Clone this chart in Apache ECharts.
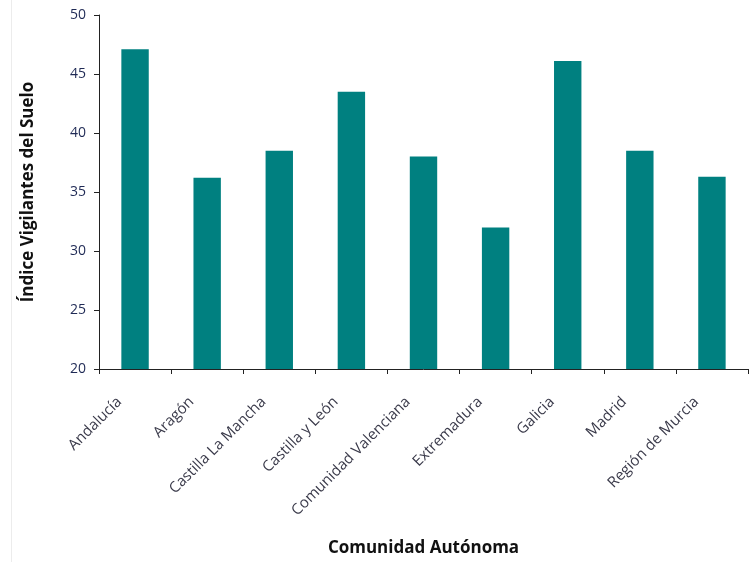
<!DOCTYPE html>
<html>
<head>
<meta charset="utf-8">
<script src="https://cdn.jsdelivr.net/npm/echarts@6/dist/echarts.min.js"></script>
<style>
  html, body { margin: 0; padding: 0; background: #fff; }
  #chart { width: 749px; height: 562px; }
</style>
</head>
<body>
<div id="chart"></div>
<script>
// datos
const comunidades = ['Andalucía', 'Aragón', 'Castilla La Mancha', 'Castilla y León', 'Comunidad Valenciana', 'Extremadura', 'Galicia', 'Madrid', 'Región de Murcia'];
const indice = [47.1, 36.2, 38.5, 43.5, 38.0, 32.0, 46.1, 38.5, 36.3];
const yTicks = [20, 25, 30, 35, 40, 45, 50];

const chart = echarts.init(document.getElementById('chart'));

const option = {
  animation: false,
  // borde tenue del área del gráfico a la izquierda
  graphic: [{
    type: 'line',
    shape: { x1: 11.5, y1: 0, x2: 11.5, y2: 562 },
    style: { stroke: '#ececec', lineWidth: 1 }
  }],
  grid: { left: 99, right: 1, top: 15, bottom: 193 },
  xAxis: {
    type: 'category',
    data: comunidades,
    name: 'Comunidad Autónoma',
    nameLocation: 'middle',
    nameGap: 171,
    nameTextStyle: { fontFamily: 'Open Sans', fontWeight: 'bold', fontSize: 17, color: '#111' },
    axisLine: { lineStyle: { color: '#222', width: 1 } },
    axisTick: { show: true, alignWithLabel: false, length: 5, lineStyle: { color: '#222' } },
    axisLabel: { rotate: 45, fontFamily: 'Open Sans', fontSize: 15, color: '#3a3a4a', margin: 15, padding: [0, 22, 0, 0] }
  },
  yAxis: {
    type: 'value',
    min: yTicks[0],
    max: yTicks[yTicks.length - 1],
    interval: 5,
    name: 'Índice Vigilantes del Suelo',
    nameLocation: 'middle',
    nameGap: 62,
    nameTextStyle: { fontFamily: 'Open Sans', fontWeight: 'bold', fontSize: 17, color: '#111' },
    axisLine: { show: true, lineStyle: { color: '#222', width: 1 } },
    axisTick: { show: true, length: 5, lineStyle: { color: '#222' } },
    axisLabel: { fontFamily: 'Open Sans', fontSize: 14, color: '#1f2a55', margin: 13 },
    splitLine: { show: false }
  },
  series: [{
    type: 'bar',
    data: indice,
    barWidth: '38%',
    itemStyle: { color: '#008080' }
  }]
};

chart.setOption(option);
</script>
</body>
</html>
